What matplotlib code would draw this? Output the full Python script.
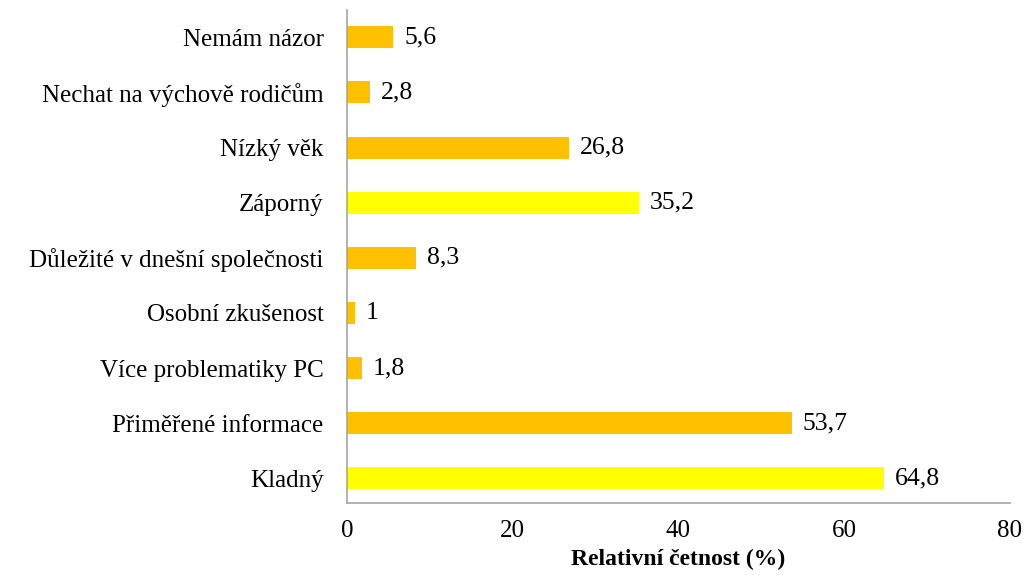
import matplotlib.pyplot as plt

plt.rcParams['font.family'] = ['Liberation Serif', 'DejaVu Serif']

categories = ['Kladný', 'Přiměřené informace', 'Více problematiky PC',
              'Osobní zkušenost', 'Důležité v dnešní společnosti', 'Záporný',
              'Nízký věk', 'Nechat na výchově rodičům', 'Nemám názor']
values = [64.8, 53.7, 1.8, 1, 8.3, 35.2, 26.8, 2.8, 5.6]
labels = ['64,8', '53,7', '1,8', '1', '8,3', '35,2', '26,8', '2,8', '5,6']
colors = ['#FFFF00', '#FFC000', '#FFC000', '#FFC000', '#FFC000',
          '#FFFF00', '#FFC000', '#FFC000', '#FFC000']

fig = plt.figure(figsize=(10.27, 5.75), dpi=100)
ax = fig.add_axes([0.338, 0.125, 0.645, 0.858])

ypos = range(len(categories))
ax.barh(ypos, values, height=0.4, color=colors)
for y, v, t in zip(ypos, values, labels):
    ax.text(v + 1.3, y, t, va='center', ha='left', fontsize=18.5)

ax.set_yticks(list(ypos))
ax.set_yticklabels(categories, fontsize=18)
ax.set_ylim(-0.45, 8.5)
ax.set_xlim(0, 80)
ax.set_xticks([0, 20, 40, 60, 80])
ax.tick_params(axis='x', labelsize=18, length=0, pad=12)
ax.tick_params(axis='y', length=0, pad=17)
ax.set_xlabel('Relativní četnost (%)', fontsize=17, fontweight='bold', labelpad=5)

for s in ['top', 'right']:
    ax.spines[s].set_visible(False)
for s in ['left', 'bottom']:
    ax.spines[s].set_color('#A6A6A6')
    ax.spines[s].set_linewidth(1.2)

fig.savefig('out.png', dpi=100)
